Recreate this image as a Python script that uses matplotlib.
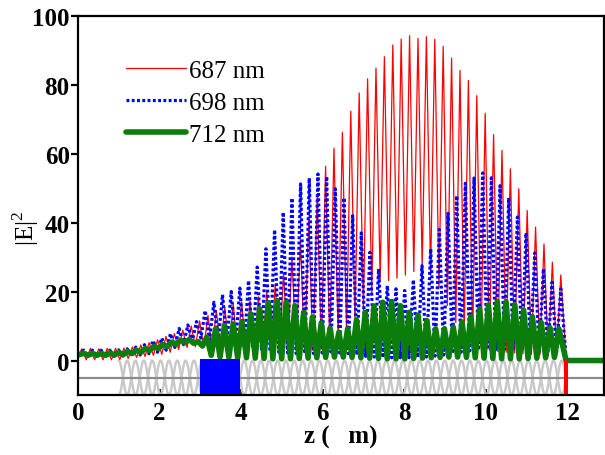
import numpy as np
import matplotlib
matplotlib.use("Agg")
import matplotlib.pyplot as plt
from matplotlib.patches import Rectangle
from matplotlib.lines import Line2D

# ---------------- data ----------------
labels = ["687 nm", "698 nm", "712 nm"]

# 687 nm : peak / trough values of the standing wave
red_first_peak, red_period = 0.098, 0.206
red_start, red_end = 1.5, 0.5
red_peaks = [3.4, 3.5, 3.4, 3.5, 3.5,
             3.6, 3.9, 4.5, 5.2, 6.0, 7.0, 7.8, 8.8, 10.0, 11.5,
             13.0, 14.5, 15.5, 16.5, 17.0, 17.5, 18.5, 20.0, 22.0, 25.5, 30.0, 35.0, 41.0, 48.0,
             56.3, 61.6, 66.2, 72.3, 77.6, 81.7, 84.8, 88.1, 91.5, 93.2, 94.2, 93.4, 93.9, 93.2,
             91.1, 87.7, 84.1, 81.2, 76.8, 71.7, 65.5, 60.9, 55.6, 49.8, 43.5, 38.7, 33.8, 28.5, 24.8]
red_troughs = [0.2, 0.2, 0.2, 0.2, 0.3,
               0.6, 0.9, 1.2, 1.5, 1.8, 2.4, 3.2, 3.8, 4.0, 3.8, 3.5,
               3.2, 3.0, 2.8, 2.6, 2.5, 2.4, 2.3, 2.2, 2.2, 2.3, 2.5, 2.8,
               3.5, 4.5, 6.0, 8.0, 11.0, 14.5, 19.0, 23.5,
               23.2, 23.9, 24.8, 25.8, 27.0, 25.0, 21.0, 16.0, 11.0, 7.5, 5.0, 3.8, 3.0,
               2.6, 2.4, 2.2, 2.0, 1.8, 1.6, 1.5, 1.4]

# 698 nm
blue_first_peak, blue_period = 0.1415, 0.2127
blue_start, blue_end = 1.5, 0.5
blue_peaks = [3.0, 3.0, 3.0, 3.0, 3.1,
              3.4, 3.9, 4.6, 5.8, 6.5, 7.8, 9.3, 10.3, 11.3,
              14.5, 16.9, 19.1, 20.0, 21.0, 23.2, 27.1, 32.4, 37.9, 43.0, 47.1, 51.2, 52.9, 54.1,
              53.4, 49.8, 47.2, 42.0, 37.0, 31.4, 26.6, 21.7, 20.8, 20.3, 23.4, 27.5, 32.4, 38.0,
              42.7, 47.8, 51.4, 52.9, 54.4, 53.0, 50.7, 47.2, 41.6, 37.0, 31.2, 26.6, 22.7, 20.8]
blue_troughs = [1.2, 1.2, 1.2, 1.2, 1.3,
                1.4, 1.6, 2.0, 2.4, 3.0, 3.8, 4.6, 5.5, 6.5,
                6.0, 5.5, 5.0, 4.5, 4.0, 3.5, 3.0, 2.6, 2.4, 2.2, 2.0, 2.0, 2.0, 2.2,
                2.5, 2.2, 2.0, 1.6, 1.2, 1.0, 0.8, 0.8, 0.8, 0.8, 0.9, 1.0, 1.3,
                1.6, 2.0, 2.4, 2.8, 3.0, 3.2, 3.2, 3.2, 3.0, 2.8, 2.6, 2.4, 2.2, 2.0]

# 712 nm
green_first_peak, green_period = 0.139, 0.2158
green_start, green_end, green_out = 1.6, 0.0, 0.0
green_peaks = [2.1, 2.1, 2.1, 2.2, 2.3, 2.6, 3.0, 3.5, 4.1, 4.7, 5.3, 5.9, 6.1, 5.5, 6.8,
               9.2, 10.1, 10.6, 11.1, 13.5, 15.0, 16.7, 17.4, 16.9, 15.9, 14.0, 12.6, 10.9, 9.4,
               8.2, 9.2, 11.8, 14.0, 15.8, 16.9, 17.1, 15.9, 14.0, 13.2, 11.6, 9.2, 9.2,
               9.7, 11.1, 12.8, 15.0, 16.1, 17.1, 17.1, 16.1, 14.6, 12.7, 11.0, 9.5, 9.2]
green_troughs = [1.5, 1.5, 1.5, 1.6, 1.7, 2.0, 2.4, 2.9, 3.5, 4.1, 4.7, 5.2, 5.0, 4.2, 1.5,
                 1.0, 0.9, 0.8, 0.8, 0.7, 0.6, 0.5, 0.5, 0.5, 0.6, 0.7, 0.8, 0.9, 1.0,
                 1.0, 0.9, 0.8, 0.7, 0.6, 0.5, 0.5, 0.5, 0.6, 0.7, 0.8, 0.9, 1.0,
                 1.0, 0.9, 0.8, 0.7, 0.6, 0.5, 0.5, 0.5, 0.6, 0.7, 0.8, 0.9]

# structure (schematic under the curves)
struct_start, struct_end, struct_period = 1.0, 11.97, 0.41
defect_start, defect_end = 3.0, 3.98
mirror_start, mirror_end = 11.92, 12.02
baseline_level = -5.0

xticks = [0, 2, 4, 6, 8, 10, 12]
yticks = [0, 20, 40, 60, 80, 100]


def standing_wave(first, period, start, peaks, troughs, end, z_end):
    pz = first + period * np.arange(len(peaks))
    tz = pz[:-1] + period / 2
    z = [0.0]
    v = [start]
    for i in range(len(peaks)):
        z.append(pz[i]); v.append(peaks[i])
        if i < len(troughs):
            z.append(tz[i]); v.append(troughs[i])
    z.append(z_end); v.append(end)
    return np.array(z), np.array(v)


plt.rcParams['font.family'] = ['Liberation Serif', 'DejaVu Serif']
plt.rcParams['mathtext.fontset'] = 'custom'
plt.rcParams['mathtext.rm'] = 'Liberation Serif'

fig = plt.figure(figsize=(6.05, 4.56), dpi=100)
ax = fig.add_axes([78 / 605, 60 / 456, 526 / 605, 379.3 / 456])
ax.set_xlim(0, 12.9)
ax.set_ylim(-10, 100)

# structure
zs = np.linspace(struct_start, struct_end, 3000)
ph = np.cos(2 * np.pi * (zs - struct_start) / struct_period)
ax.plot(zs, baseline_level + 5 * ph, color='#c8c8c8', lw=1.7, zorder=1)
ax.plot(zs, baseline_level - 5 * ph, color='#c8c8c8', lw=1.7, zorder=1)
ax.axhline(baseline_level, color='#8c8c8c', lw=1.6, zorder=1.1)
ax.add_patch(Rectangle((defect_start, -10), defect_end - defect_start, 10.3,
                       facecolor='#0000ff', edgecolor='none', zorder=3))
ax.add_patch(Rectangle((mirror_start, -10), mirror_end - mirror_start, 10.4,
                       facecolor='#ff0000', edgecolor='none', zorder=4))

zr, vr = standing_wave(red_first_peak, red_period, red_start, red_peaks, red_troughs, red_end, struct_end)
zb, vb = standing_wave(blue_first_peak, blue_period, blue_start, blue_peaks, blue_troughs, blue_end, struct_end)
zg, vg = standing_wave(green_first_peak, green_period, green_start, green_peaks, green_troughs, green_end, struct_end)

blue_ls = (0, (0.9, 0.75))
ax.plot(zr, vr, color='#ff0000', lw=0.9, zorder=2, label=labels[0])
ax.plot(zb, vb, color='#0000ff', lw=2.3, ls=blue_ls, zorder=2.1, label=labels[1])
ax.plot(np.append(zg, 12.9), np.append(vg, green_out), color='#0b7d0b', lw=4.0,
        solid_capstyle='round', solid_joinstyle='round', zorder=2.2, label=labels[2])

for s in ax.spines.values():
    s.set_linewidth(1.6)
    s.set_zorder(6)
ax.set_axisbelow(True)
ax.set_xticks(xticks)
ax.set_yticks(yticks)
ax.tick_params(axis='x', direction='in', length=4, width=1.2, pad=4, labelsize=18)
ax.tick_params(axis='y', direction='out', length=5, width=1.6, pad=1, labelsize=18)
for lab in ax.get_xticklabels() + ax.get_yticklabels():
    lab.set_fontweight('bold')

ax.set_xlabel('z (   m)', fontsize=18, fontweight='bold')
ax.xaxis.set_label_coords(0.5, -0.108)
ax.set_ylabel('|E|$^2$', fontsize=18)
ax.yaxis.set_label_coords(-0.10, 0.443)
ax.yaxis.label.set_va('center')
ax.xaxis.label.set_va('center')

handles = [Line2D([], [], color='#ff0000', lw=0.9),
           Line2D([], [], color='#0000ff', lw=2.3, ls=blue_ls),
           Line2D([], [], color='#0b7d0b', lw=4.0, solid_capstyle='round')]
ax.legend(handles, labels, loc='upper left', bbox_to_anchor=(0.0913, 0.884),
          frameon=False, fontsize=18, handlelength=2.4, handletextpad=0.1,
          labelspacing=0.37, borderpad=0, borderaxespad=0)

fig.savefig('out.png', dpi=100)
